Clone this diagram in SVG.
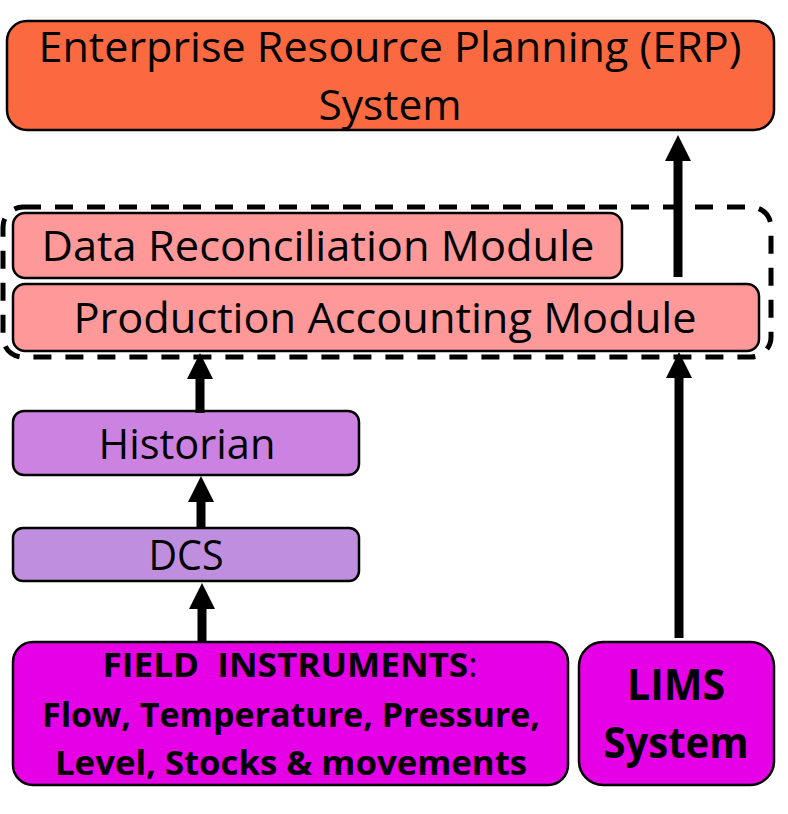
<svg xmlns="http://www.w3.org/2000/svg" width="788" height="814" viewBox="0 0 788 814">
<defs>
<marker id="ah" markerUnits="userSpaceOnUse" markerWidth="26" markerHeight="26" viewBox="0 0 26 26" refX="1" refY="13" orient="auto">
<path d="M0,0 L26,13 L0,26 Z" fill="#000"/>
</marker>
<style>
.box{stroke:#000;stroke-width:2.5}
.t{font-family:"Open Sans","Noto Sans","Liberation Sans",sans-serif;font-size:42px;fill:#000;text-anchor:middle}
.b{font-family:"Open Sans","Noto Sans","Liberation Sans",sans-serif;font-weight:bold;fill:#000;text-anchor:middle}
.c{stroke:#000;stroke-width:9;fill:none;marker-end:url(#ah)}
</style>
</defs>
<rect width="788" height="814" fill="#fff"/>
<g id="group">
<rect x="3" y="207" width="768" height="150" rx="20" fill="none" stroke="#000" stroke-width="5" stroke-dasharray="18 14"/>
</g>
<g id="erp">
<rect class="box" x="7" y="21" width="767" height="109" rx="20" fill="#FB6941"/>
<text class="t" x="390" y="62" textLength="703" lengthAdjust="spacingAndGlyphs">Enterprise Resource Planning (ERP)</text>
<text class="t" x="390" y="120" textLength="143" lengthAdjust="spacingAndGlyphs">System</text>
</g>
<g id="drm">
<rect class="box" x="13" y="213" width="609" height="65" rx="12" fill="#FF9999"/>
<text class="t" x="318" y="261" textLength="553" lengthAdjust="spacingAndGlyphs">Data Reconciliation Module</text>
</g>
<g id="pam">
<rect class="box" x="13" y="284" width="746" height="67" rx="12" fill="#FF9999"/>
<text class="t" x="385" y="333" textLength="623" lengthAdjust="spacingAndGlyphs">Production Accounting Module</text>
</g>
<g id="historian">
<rect class="box" x="13" y="411" width="346" height="64" rx="11" fill="#CC82E0"/>
<text class="t" x="187" y="459" textLength="177" lengthAdjust="spacingAndGlyphs">Historian</text>
</g>
<g id="dcs">
<rect class="box" x="13" y="528" width="346" height="53" rx="10" fill="#C08EDF"/>
<text class="t" x="186" y="570" textLength="75" lengthAdjust="spacingAndGlyphs">DCS</text>
</g>
<g id="field">
<rect class="box" x="13" y="642" width="555" height="143" rx="20" fill="#E600E6"/>
<text class="b" x="290" y="677" font-size="34" textLength="375" lengthAdjust="spacingAndGlyphs" xml:space="preserve" style="white-space:pre">FIELD  INSTRUMENTS<tspan font-weight="normal">:</tspan></text>
<text class="b" x="291" y="727" font-size="34" textLength="498" lengthAdjust="spacingAndGlyphs">Flow, Temperature, Pressure,</text>
<text class="b" x="291" y="775" font-size="34" textLength="472" lengthAdjust="spacingAndGlyphs">Level, Stocks &amp; movements</text>
</g>
<g id="lims">
<rect class="box" x="579" y="642" width="195" height="143" rx="24" fill="#E600E6"/>
<text class="b" x="676" y="700" font-size="43" textLength="98" lengthAdjust="spacingAndGlyphs">LIMS</text>
<text class="b" x="676" y="758" font-size="43" textLength="145" lengthAdjust="spacingAndGlyphs">System</text>
</g>
<g id="connectors">
<line class="c" x1="678" y1="277" x2="678" y2="160"/>
<line class="c" x1="679" y1="638" x2="679" y2="377"/>
<line class="c" x1="200" y1="413" x2="200" y2="378"/>
<line class="c" x1="201" y1="527" x2="201" y2="501"/>
<line class="c" x1="202" y1="642" x2="202" y2="608"/>
</g>
</svg>
